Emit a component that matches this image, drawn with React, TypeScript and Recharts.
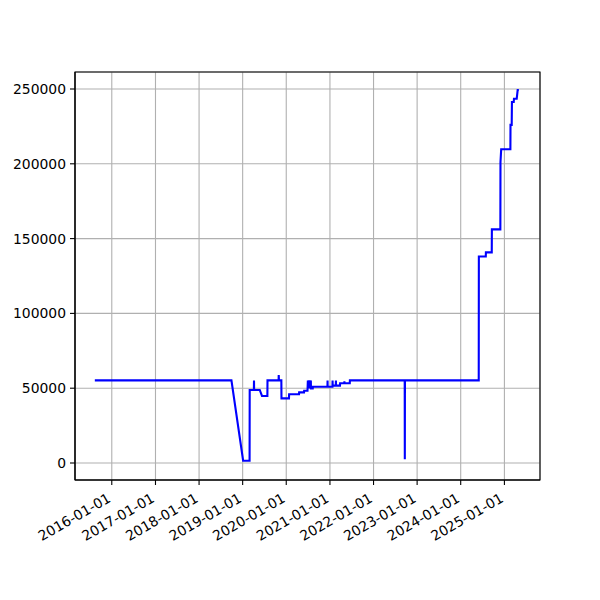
import React from "react";
import { LineChart, Line, XAxis, YAxis, CartesianGrid, ReferenceArea } from "recharts";

// readings, step changes are stored as pairs of consecutive days
const dates = [
  "2015-08-12", "2018-09-29", "2019-01-05", "2019-02-28", "2019-03-01", "2019-04-05",
  "2019-04-06", "2019-04-07", "2019-05-24", "2019-06-12", "2019-07-27", "2019-07-28",
  "2019-10-29", "2019-10-30", "2019-11-01", "2019-11-21", "2019-11-22", "2020-01-24",
  "2020-01-25", "2020-04-17", "2020-04-18", "2020-05-29", "2020-05-30", "2020-06-27",
  "2020-06-30", "2020-07-01", "2020-07-08", "2020-07-09", "2020-07-16", "2020-07-17",
  "2020-07-25", "2020-07-26", "2020-08-10", "2020-08-11", "2020-12-11", "2020-12-12",
  "2020-12-13", "2021-01-22", "2021-01-23", "2021-01-24", "2021-02-19", "2021-02-20",
  "2021-02-21", "2021-03-26", "2021-03-27", "2021-05-01", "2021-05-02", "2021-05-03",
  "2021-06-16", "2021-06-17", "2022-09-19", "2022-09-20", "2022-09-21", "2024-05-31",
  "2024-06-01", "2024-07-29", "2024-07-30", "2024-09-17", "2024-09-18", "2024-11-28",
  "2024-11-29", "2024-12-05", "2025-02-20", "2025-02-21", "2025-03-03", "2025-03-05",
  "2025-03-20", "2025-03-22", "2025-04-14", "2025-04-22", "2025-05-02",
];
const values = [
  55200, 55200, 1500, 1500, 48800, 48800,
  55200, 48800, 48800, 44800, 44800, 55200,
  55200, 58800, 55200, 55200, 43200, 43200,
  46000, 46000, 47200, 47200, 48300, 48300,
  55200, 49900, 55200, 49900, 55200, 49900,
  55200, 49900, 49900, 51000, 51000, 55200,
  51000, 51000, 55200, 51700, 51700, 55200,
  51700, 51700, 53300, 53300, 54600, 53300,
  53300, 55200, 55200, 2500, 55200, 55200,
  138000, 138000, 140800, 140800, 156200, 156200,
  201000, 209700, 209700, 226000, 226000, 241300,
  241300, 243500, 243500, 249300, 249300,
];
const tickYears = [2016, 2017, 2018, 2019, 2020, 2021, 2022, 2023, 2024, 2025];
const yTicks = [0, 50000, 100000, 150000, 200000, 250000];

const data = dates.map((d, i) => ({ t: Date.parse(d), v: values[i] }));
const xTicks = tickYears.map((y) => Date.UTC(y, 0, 1));
const xMin = Date.UTC(2015, 1, 27);
const xMax = Date.UTC(2025, 9, 26);
const yMin = -11364;
const yMax = 261364;

const FONT = "DejaVu Sans";

const fmtDate = (t: number) => new Date(t).toISOString().slice(0, 10);

const DateTick = (props: any) => {
  const { x, y, payload } = props;
  const px = x;
  const py = y + 16;
  return (
    <text
      x={px}
      y={py}
      textAnchor="end"
      fontFamily={FONT}
      fontSize={13.9}
      fill="#000"
      transform={`rotate(-30, ${px}, ${py})`}
    >
      {fmtDate(payload.value)}
    </text>
  );
};

export default function App() {
  return (
    <div style={{ position: "absolute", left: 0, top: 0, width: 600, height: 600, background: "#fff" }}>
      <LineChart width={600} height={600} data={data} margin={{ top: 72, right: 60, bottom: 60, left: 0 }}>
        <CartesianGrid stroke="#b0b0b0" strokeWidth={1.1} />
        <XAxis
          dataKey="t"
          type="number"
          scale="linear"
          domain={[xMin, xMax]}
          allowDataOverflow
          ticks={xTicks}
          interval={0}
          height={60}
          tickSize={5}
          tickMargin={0}
          tick={<DateTick />}
          axisLine={{ stroke: "#000", strokeWidth: 1.1 }}
          tickLine={{ stroke: "#000", strokeWidth: 1.1 }}
        />
        <YAxis
          type="number"
          domain={[yMin, yMax]}
          allowDataOverflow
          ticks={yTicks}
          interval={0}
          width={75}
          tickSize={5}
          tickMargin={4}
          tick={{ fontFamily: FONT, fontSize: 13.9, fill: "#000" }}
          axisLine={{ stroke: "#000", strokeWidth: 1.1 }}
          tickLine={{ stroke: "#000", strokeWidth: 1.1 }}
        />
        <Line
          dataKey="v"
          type="linear"
          stroke="#0000ff"
          strokeWidth={2.1}
          dot={false}
          activeDot={false}
          isAnimationActive={false}
        />
        <ReferenceArea x1={xMin} x2={xMax} y1={yMin} y2={yMax} fill="none" stroke="#000" strokeWidth={1.1} fillOpacity={0} />
      </LineChart>
    </div>
  );
}
